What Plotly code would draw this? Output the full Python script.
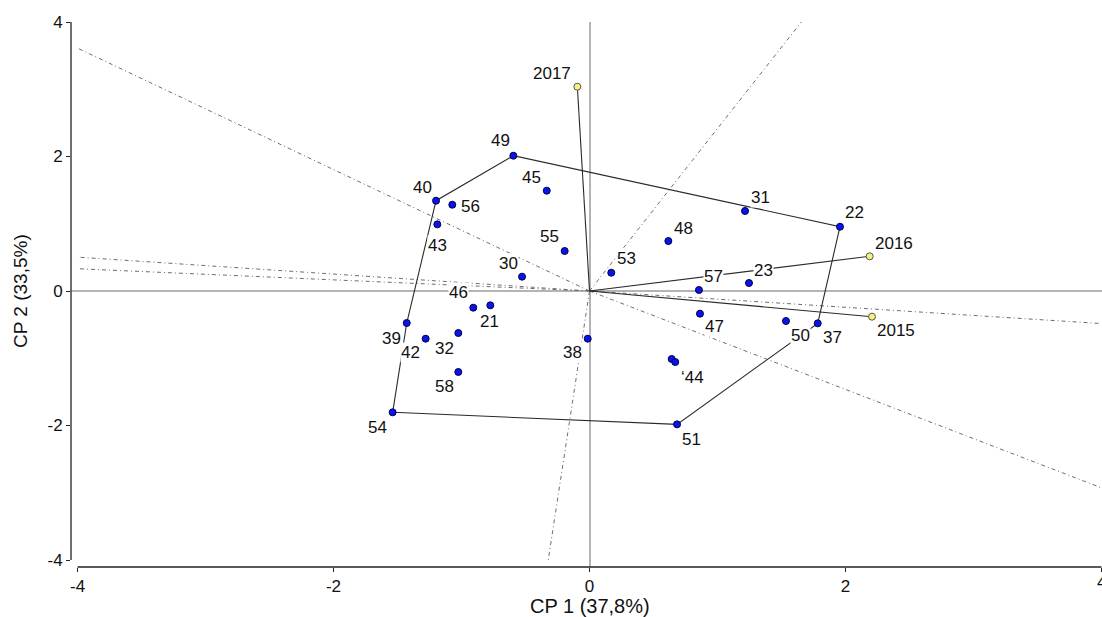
import plotly.graph_objects as go

# Genotype scores on the first two principal components
genotypes = ["21", "22", "23", "30", "31", "32", "37", "38", "39", "40",
             "41", "42", "43", "44", "45", "46", "47", "48", "49", "50",
             "51", "53", "54", "55", "56", "57", "58"]
gen_pc1 = [-0.775, 1.957, 1.246, -0.527, 1.215, -1.025, 1.783, -0.014, -1.428, -1.199,
           0.642, -1.280, -1.189, 0.670, -0.334, -0.908, 0.863, 0.616, -0.595, 1.535,
           0.684, 0.170, -1.538, -0.194, -1.072, 0.855, -1.025]
gen_pc2 = [-0.213, 0.956, 0.119, 0.213, 1.190, -0.625, -0.481, -0.709, -0.476, 1.343,
           -1.011, -0.709, 0.991, -1.056, 1.492, -0.248, -0.337, 0.743, 2.012, -0.446,
           -1.983, 0.272, -1.804, 0.595, 1.283, 0.015, -1.204]

# Environment (year) scores
environments = ["2015", "2016", "2017"]
env_pc1 = [2.207, 2.189, -0.095]
env_pc2 = [-0.382, 0.516, 3.038]

x_ticks = [-4, -2, 0, 2, 4]
y_ticks = [-4, -2, 0, 2, 4]
x_title = "CP 1 (37,8%)"
y_title = "CP 2 (33,5%)"

# Label placement (pixel offsets right/down from the marker) and label text overrides
label_offset = {
    "21": (-1, 16), "22": (15, -14), "23": (15, -13), "30": (-14, -13), "31": (15, -13),
    "32": (-14, 15), "37": (15, 14), "38": (-15, 14), "39": (-15, 15), "40": (-14, -13),
    "41": (12, 15), "42": (-15, 14), "43": (0, 21), "44": (17, 15), "45": (-15, -13),
    "46": (-15, -15), "47": (15, 13), "48": (15, -13), "49": (-13, -15), "50": (15, 14),
    "51": (14, 15), "53": (15, -14), "54": (-15, 15), "55": (-15, -14), "56": (18, 2),
    "57": (15, -13), "58": (-14, 15),
    "2015": (24, 14), "2016": (24, -13), "2017": (-25, -13),
}
label_text = {"41": "", "44": "\u201844"}

FONT = "Arial, Liberation Sans, sans-serif"
LIM = 4.0


def convex_hull(pts):
    pts = sorted(set(pts))

    def cross(o, a, b):
        return (a[0] - o[0]) * (b[1] - o[1]) - (a[1] - o[1]) * (b[0] - o[0])

    lower, upper = [], []
    for p in pts:
        while len(lower) >= 2 and cross(lower[-2], lower[-1], p) <= 0:
            lower.pop()
        lower.append(p)
    for p in reversed(pts):
        while len(upper) >= 2 and cross(upper[-2], upper[-1], p) <= 0:
            upper.pop()
        upper.append(p)
    return lower[:-1] + upper[:-1]


hull = convex_hull(list(zip(gen_pc1, gen_pc2)))

fig = go.Figure()

# Rays from the origin perpendicular to each hull edge, clipped to the plotting box
for i in range(len(hull)):
    p, q = hull[i], hull[(i + 1) % len(hull)]
    nx, ny = q[1] - p[1], -(q[0] - p[0])
    if nx * p[0] + ny * p[1] < 0:
        nx, ny = -nx, -ny
    t = min(LIM / abs(nx) if nx else 1e9, LIM / abs(ny) if ny else 1e9)
    fig.add_trace(go.Scatter(
        x=[0, t * nx], y=[0, t * ny], mode="lines",
        line=dict(color="#6e6e6e", width=1, dash="4px,3px,1px,3px"),
        hoverinfo="skip", showlegend=False))

# Convex hull polygon
hx = [p[0] for p in hull] + [hull[0][0]]
hy = [p[1] for p in hull] + [hull[0][1]]
fig.add_trace(go.Scatter(x=hx, y=hy, mode="lines",
                         line=dict(color="#2a2a2a", width=1.1),
                         hoverinfo="skip", showlegend=False))

# Environment vectors
for ex, ey in zip(env_pc1, env_pc2):
    fig.add_trace(go.Scatter(x=[0, ex], y=[0, ey], mode="lines",
                             line=dict(color="#2a2a2a", width=1.1),
                             hoverinfo="skip", showlegend=False))

fig.add_trace(go.Scatter(
    x=gen_pc1, y=gen_pc2, mode="markers", text=genotypes,
    marker=dict(size=7, color="#0a14e6", line=dict(color="#000050", width=1)),
    showlegend=False))
fig.add_trace(go.Scatter(
    x=env_pc1, y=env_pc2, mode="markers", text=environments,
    marker=dict(size=7, color="#f6f07c", line=dict(color="#555555", width=1)),
    showlegend=False))

annotations = []
for names, xs, ys in ((genotypes, gen_pc1, gen_pc2), (environments, env_pc1, env_pc2)):
    for n, x, y in zip(names, xs, ys):
        txt = label_text.get(n, n)
        if not txt:
            continue
        dx, dy = label_offset[n]
        annotations.append(dict(
            x=x, y=y, xref="x", yref="y", text=txt, showarrow=False,
            xshift=dx, yshift=-dy, bgcolor="white", borderpad=0,
            font=dict(family=FONT, size=17, color="#111111")))

annotations.append(dict(x=0, y=0, xref="x", yref="paper", text=x_title, showarrow=False,
                        yanchor="middle", yshift=-39,
                        font=dict(family=FONT, size=20, color="#111111")))
annotations.append(dict(x=0, y=0, xref="paper", yref="y", text=y_title, showarrow=False,
                        textangle=-90, xanchor="center", xshift=-51,
                        font=dict(family=FONT, size=19, color="#111111")))
# Rightmost x tick label sits on the page edge
annotations.append(dict(x=x_ticks[-1], y=0, xref="x", yref="paper", text=str(x_ticks[-1]),
                        showarrow=False, yanchor="middle", yshift=-15,
                        font=dict(family=FONT, size=17, color="#111111")))

shapes = [
    dict(type="line", xref="paper", yref="y", x0=0, x1=0, y0=-LIM, y1=LIM,
         line=dict(color="#222222", width=1.3)),
    dict(type="line", xref="x", yref="paper", x0=-LIM, x1=LIM, y0=0, y1=0,
         line=dict(color="#222222", width=1.3)),
]

axis_common = dict(showgrid=False, showline=False, zeroline=True,
                   zerolinecolor="#b4b4b4", zerolinewidth=1.5,
                   ticks="outside", ticklen=4, tickwidth=1, tickcolor="#222222",
                   tickfont=dict(family=FONT, size=17, color="#111111"))

fig.update_layout(
    width=1102, height=617,
    margin=dict(l=71, r=0, t=22, b=50),
    paper_bgcolor="white", plot_bgcolor="white",
    xaxis=dict(range=[-4.051, 4.004], tickvals=x_ticks,
               ticktext=[str(v) for v in x_ticks], **axis_common),
    yaxis=dict(range=[-4.104, 4.0], tickvals=y_ticks,
               ticktext=[str(v) for v in y_ticks], **axis_common),
    annotations=annotations, shapes=shapes,
)

fig.write_html("out.html")
